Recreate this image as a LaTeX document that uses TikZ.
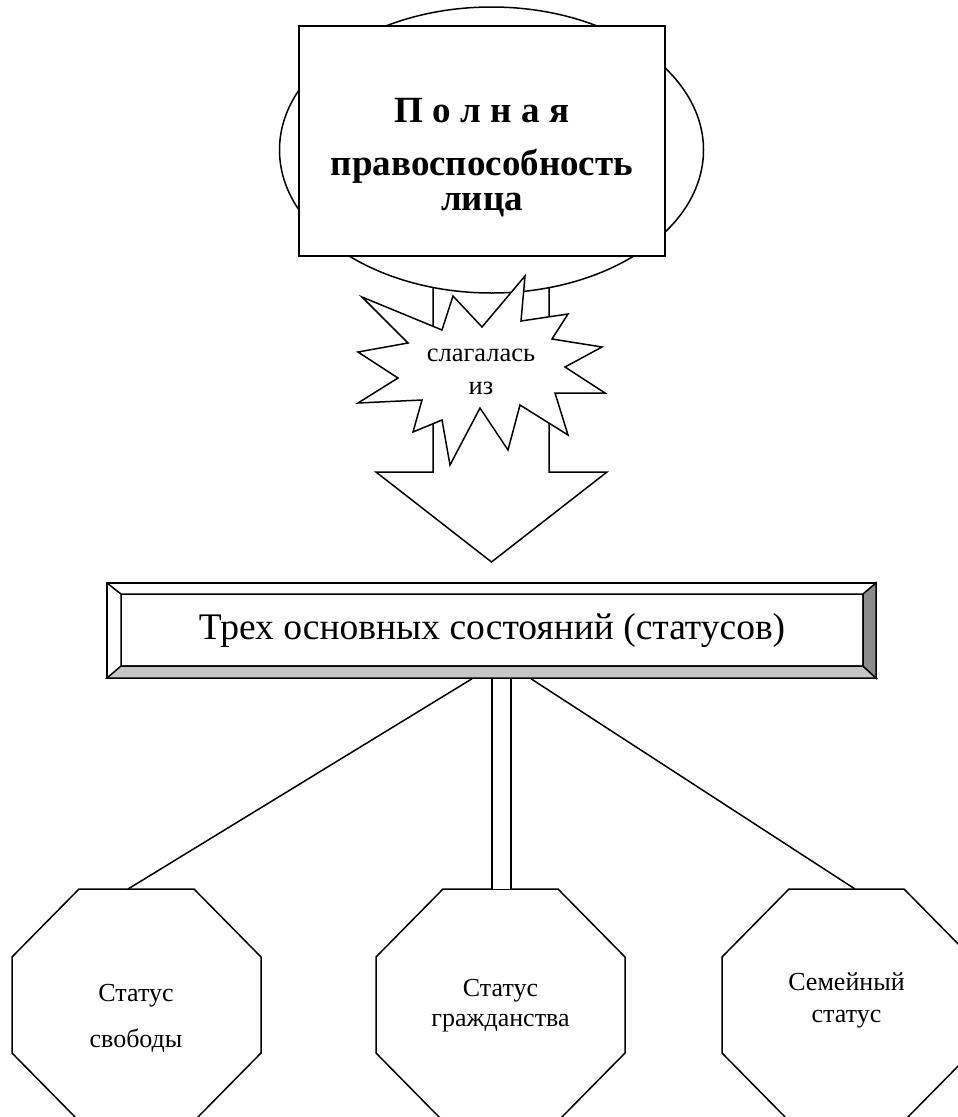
\documentclass[tikz,border=0pt]{standalone}
\usepackage{fontspec}
\setmainfont{Liberation Serif}
\begin{document}
\begin{tikzpicture}[x=1pt,y=-1pt,line width=1.5pt,
  flat/.style={draw,fill=white},
  labeltext/.style={align=center,inner sep=0pt,font=\fontsize{26}{30}\selectfont}]
\clip (0,0) rectangle (958,1117);
\fill[white] (0,0) rectangle (958,1117);

% block arrow, then ellipse and box over it
\path[flat] (433,250) -- (433,472) -- (376,472) -- (491.5,562) -- (607,472) -- (549,472) -- (549,250) -- cycle;
\path[flat] (491.5,150) ellipse [x radius=212,y radius=143];
\path[flat] (299,26) rectangle (665,256);
\node[align=center,inner sep=0pt,font=\bfseries\fontsize{37}{35}\selectfont] (full) at (482,157.5) {П о л н а я\\[18pt]правоспособность\\лица};

% explosion
\path[flat] (525,276) -- (521,321) -- (568,314) -- (552,339) -- (602,347) -- (565,367) -- (605,393) -- (555,393) -- (568,435) -- (520,405) -- (508,450) -- (480,408) -- (450,465) -- (442,420) -- (413,432) -- (422,400) -- (358,403) -- (398,378) -- (358,352) -- (408,343) -- (362,297) -- (442,330) -- (453,296) -- (482,327) -- cycle;
\node[labeltext,font=\fontsize{26.5}{33}\selectfont] (slag) at (481,372) {слагалась\\из};

% bevelled box
\node[flat,minimum width=769pt,minimum height=95pt,inner sep=0pt] (status) at (491.5,630.5) {};
\path[draw,fill=black!22] (107,678) -- (121,666) -- (863,666) -- (876,678) -- cycle;
\path[draw,fill=black!45] (876,583) -- (863,594) -- (863,666) -- (876,678) -- cycle;
\path[draw] (107,583) -- (121,594) rectangle (863,666);
\node[inner sep=0pt,font=\fontsize{37.5}{40}\selectfont] (trex) at (492,631) {Трех основных состояний (статусов)};

% octagons
\path[flat] (12,957) -- (79,889) -- (194,889) -- (261,957) -- (261,1053) -- (194,1121) -- (79,1121) -- (12,1053) -- cycle;
\path[flat] (376,957) -- (443,889) -- (558,889) -- (625,957) -- (625,1053) -- (558,1121) -- (443,1121) -- (376,1053) -- cycle;
\path[flat] (722,957) -- (789,889) -- (904,889) -- (971,957) -- (971,1053) -- (904,1121) -- (789,1121) -- (722,1053) -- cycle;
\coordinate (svobtop) at (128,889);
\coordinate (grazhtop) at (501.5,889);
\coordinate (semtop) at (855,889);
\node[labeltext] (svob) at (136,1018) {Статус\\[16pt]свободы};
\node[labeltext] (grazh) at (500.5,1006) {Статус\\гражданства};
\node[labeltext,font=\fontsize{26}{32}\selectfont] (sem) at (846.5,1000) {Семейный\\статус};

% connectors
\draw ([xshift=-19.5pt]status.south) -- (svobtop);
\draw[double,double distance=17.5pt] (status.south -| grazhtop) -- (grazhtop);
\draw ([xshift=39.5pt]status.south) -- (semtop);
\end{tikzpicture}
\end{document}
